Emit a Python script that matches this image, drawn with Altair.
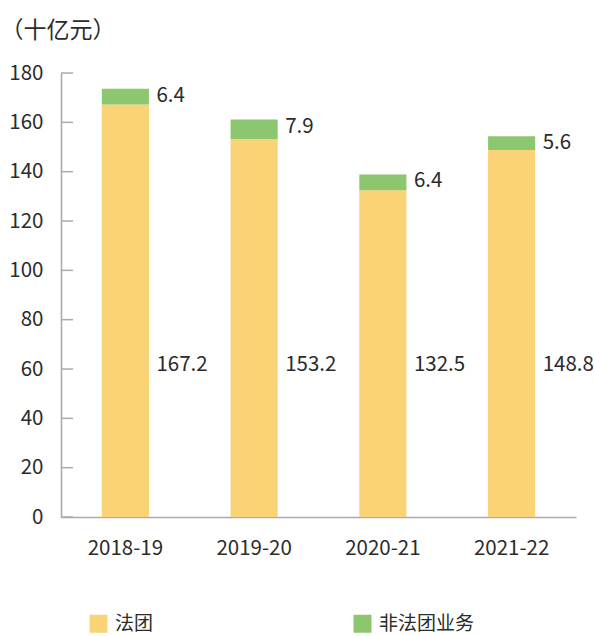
import altair as alt
import pandas as pd

years = ["2018-19", "2019-20", "2020-21", "2021-22"]
corporate = [167.2, 153.2, 132.5, 148.8]
non_corporate = [6.4, 7.9, 6.4, 5.6]
series = ["法团", "非法团业务"]
y_ticks = [0, 20, 40, 60, 80, 100, 120, 140, 160, 180]
unit_title = "（十亿元）"

colors = ["#F9D376", "#8CC66E"]
FONT = "Noto Sans CJK SC"
NUM = "Noto Sans CJK SC"
TXT = "#2b2b2b"

rows = []
for y, c, n in zip(years, corporate, non_corporate):
    rows.append({"year": y, "series": series[0], "value": c, "ord": 0})
    rows.append({"year": y, "series": series[1], "value": n, "ord": 1})
df = pd.DataFrame(rows)
tot = pd.DataFrame({"year": years, "corp": corporate, "non": non_corporate,
                    "total": [c + n for c, n in zip(corporate, non_corporate)]})
ticks_df = pd.DataFrame({"t": y_ticks})

xenc = alt.X("year:N", sort=years, title=None,
             scale=alt.Scale(paddingInner=0.634, paddingOuter=0.317),
             axis=alt.Axis(labelAngle=0, ticks=False, labelPadding=21,
                           labelFontSize=20.5, labelFont=NUM, labelColor=TXT,
                           domainColor="#ababab", domainWidth=1.6))
yscale = alt.Scale(domain=[0, 180], nice=False)

bars = alt.Chart(df).mark_bar().encode(
    x=xenc,
    y=alt.Y("value:Q", stack="zero", scale=yscale,
            axis=alt.Axis(values=y_ticks, ticks=False, grid=False,
                          labelPadding=18, labelFontSize=20.5, labelFont=NUM,
                          labelColor=TXT, domainColor="#ababab", domainWidth=1.6,
                          title=unit_title, titleAngle=0, titleAlign="left",
                          titleBaseline="middle", titleX=-61, titleY=-43,
                          titleFont=FONT, titleFontSize=23, titleFontWeight="normal",
                          titleColor=TXT)),
    color=alt.Color("series:N", sort=series,
                    scale=alt.Scale(domain=series, range=colors),
                    legend=alt.Legend(orient="none", legendX=28, legendY=541,
                                      direction="horizontal", title=None,
                                      symbolType="square", symbolSize=324,
                                      symbolStrokeWidth=0, labelFontSize=19,
                                      labelFont=FONT, labelColor=TXT,
                                      labelOffset=7, columnPadding=199)),
    order=alt.Order("ord:Q"),
)

tick_marks = alt.Chart(ticks_df).mark_rule(color="#ababab", strokeWidth=1.5).encode(
    y=alt.Y("t:Q", scale=yscale), x=alt.value(0), x2=alt.value(12))

corp_labels = alt.Chart(tot).mark_text(
    align="left", baseline="middle", dx=31, fontSize=20.5, font=NUM, color=TXT
).encode(x=alt.X("year:N", sort=years), y=alt.value(292), text=alt.Text("corp:Q", format=".1f"))

non_labels = alt.Chart(tot).mark_text(
    align="left", baseline="top", dx=31, dy=-3, fontSize=20.5, font=NUM, color=TXT
).encode(x=alt.X("year:N", sort=years), y=alt.Y("total:Q", scale=yscale),
         text=alt.Text("non:Q", format=".1f"))

chart = alt.layer(bars, tick_marks, corp_labels, non_labels).properties(
    width=515, height=444,
    autosize=alt.AutoSizeParams(type="none"),
    padding={"left": 61, "top": 73, "right": 18, "bottom": 119},
).configure_view(stroke=None)

chart.save("out.html", embed_options={"renderer": "svg", "actions": False})
